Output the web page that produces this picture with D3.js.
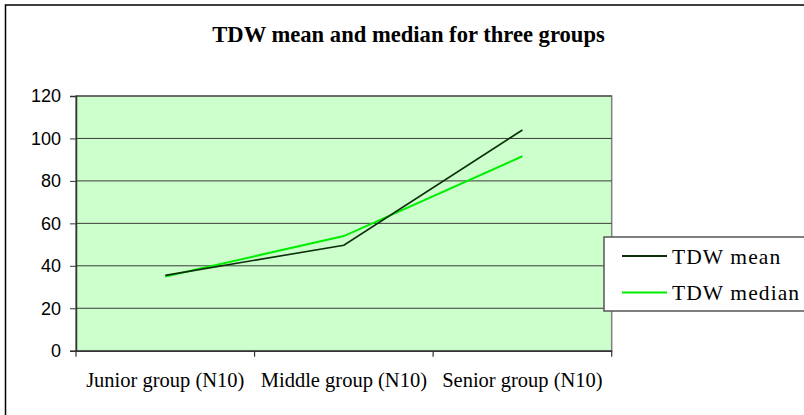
<!DOCTYPE html>
<html>
<head>
<meta charset="utf-8">
<script src="https://cdn.jsdelivr.net/npm/d3@7/dist/d3.min.js"></script>
<style>
  html, body { margin: 0; padding: 0; background: #ffffff; }
  svg { display: block; }
</style>
</head>
<body>
<svg id="chart" width="804" height="415"></svg>
<script>
const categories = ["Junior group (N10)", "Middle group (N10)", "Senior group (N10)"];
const meanValues = [35.5, 49.7, 104];
const medianValues = [35, 54, 91.6];
const seriesNames = ["TDW mean", "TDW median"];
const yTicks = [0, 20, 40, 60, 80, 100, 120];
const titleText = "TDW mean and median for three groups";

const svg = d3.select("#chart");
const plot = { left: 76, right: 611.7, top: 96, bottom: 350.7 };

// outer chart border (right & bottom extend beyond view)
svg.append("rect")
  .attr("x", 5.5).attr("y", 5)
  .attr("width", 900).attr("height", 500)
  .attr("fill", "#ffffff")
  .attr("stroke", "#000000").attr("stroke-width", 1.5);

const x = d3.scaleBand().domain(categories).range([plot.left, plot.right]).padding(0);
const y = d3.scaleLinear().domain([0, 120]).range([plot.bottom, plot.top]);

// plot background
svg.append("rect")
  .attr("x", plot.left).attr("y", plot.top)
  .attr("width", plot.right - plot.left).attr("height", plot.bottom - plot.top)
  .attr("fill", "#CCFFCC")
  .attr("stroke", "#808080").attr("stroke-width", 1.5);

// gridlines
svg.append("g")
  .selectAll("line")
  .data(yTicks.filter(d => d > 0))
  .join("line")
  .attr("x1", plot.left).attr("x2", plot.right)
  .attr("y1", d => y(d)).attr("y2", d => y(d))
  .attr("stroke", "#3a3a3a").attr("stroke-width", 1);

// y axis
const yAxis = svg.append("g")
  .attr("transform", `translate(${plot.left},0)`)
  .call(d3.axisLeft(y).tickValues(yTicks).tickSize(6).tickPadding(9));
yAxis.select(".domain").attr("stroke", "#333333").attr("stroke-width", 1.5);
yAxis.selectAll(".tick line").attr("stroke", "#333333");
yAxis.selectAll("text")
  .attr("font-family", "'Liberation Sans', Arial, sans-serif")
  .attr("font-size", 18).attr("fill", "#000");

// x axis
const xAxis = svg.append("g")
  .attr("transform", `translate(0,${plot.bottom})`)
  .call(d3.axisBottom(x).tickSize(0).tickPadding(22));
xAxis.select(".domain").attr("stroke", "#333333").attr("stroke-width", 1.5);
xAxis.selectAll("text")
  .attr("font-family", "'Liberation Serif', 'Times New Roman', serif")
  .attr("font-size", 20.5).attr("fill", "#000");
// category boundary ticks
const boundaries = categories.map(c => x(c)).concat([x(categories[categories.length - 1]) + x.bandwidth()]);
svg.append("g").selectAll("line")
  .data(boundaries)
  .join("line")
  .attr("x1", d => d).attr("x2", d => d)
  .attr("y1", plot.bottom).attr("y2", plot.bottom + 6)
  .attr("stroke", "#333333").attr("stroke-width", 1.2);

// lines
const line = d3.line()
  .x((d, i) => x(categories[i]) + x.bandwidth() / 2)
  .y(d => y(d));

const series = [
  { name: seriesNames[0], values: meanValues, color: "#0b2e0b" },
  { name: seriesNames[1], values: medianValues, color: "#00ee00" }
];

svg.append("path").datum(medianValues)
  .attr("d", line).attr("fill", "none")
  .attr("stroke", series[1].color).attr("stroke-width", 2);
svg.append("path").datum(meanValues)
  .attr("d", line).attr("fill", "none")
  .attr("stroke", series[0].color).attr("stroke-width", 1.6);

// title
svg.append("text")
  .attr("x", 408.5).attr("y", 42)
  .attr("text-anchor", "middle")
  .attr("font-family", "'Liberation Serif', 'Times New Roman', serif")
  .attr("font-weight", "bold")
  .attr("font-size", 22.6)
  .text(titleText);

// legend
const lg = svg.append("g");
lg.append("rect")
  .attr("x", 604).attr("y", 237)
  .attr("width", 260).attr("height", 74)
  .attr("fill", "#ffffff")
  .attr("stroke", "#555555").attr("stroke-width", 1.5);
series.forEach((s, i) => {
  const cy = 256 + i * 36.5;
  lg.append("line")
    .attr("x1", 622).attr("x2", 667)
    .attr("y1", cy).attr("y2", cy)
    .attr("stroke", s.color).attr("stroke-width", 1.8);
  lg.append("text")
    .attr("x", 672).attr("y", cy + 7.5)
    .attr("font-family", "'Liberation Serif', 'Times New Roman', serif")
    .attr("font-size", 21.5)
    .attr("letter-spacing", 1.1)
    .text(s.name);
});
</script>
</body>
</html>
